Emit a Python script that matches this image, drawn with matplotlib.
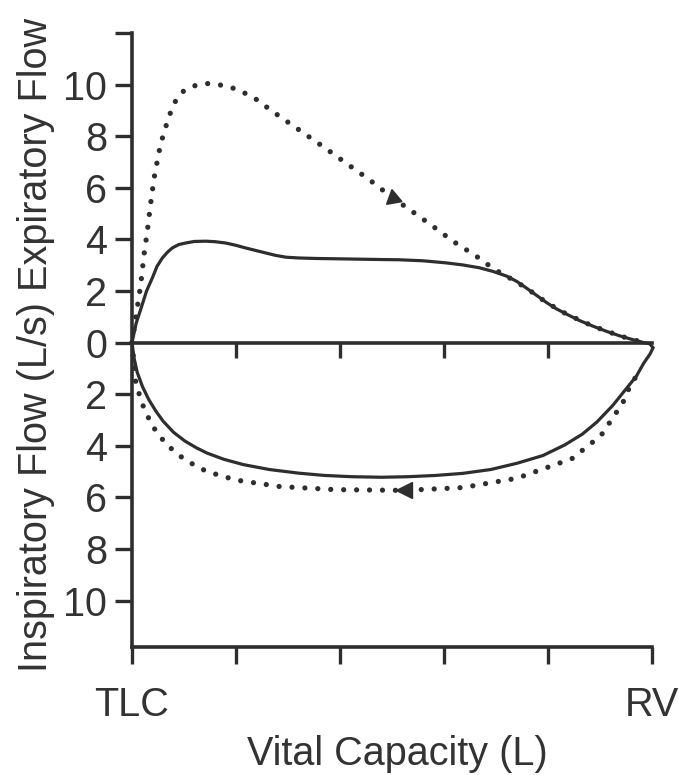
"""
Flow-volume loop: normal (dotted) vs. obstructed (solid)
"""

import matplotlib
matplotlib.use("Agg")
import matplotlib.pyplot as plt

plt.rcParams["font.family"] = ["Liberation Sans", "DejaVu Sans"]

# ================================================================
# 1. Data
# ================================================================
# solid loop, expiratory half (TLC -> RV)
exp_solid_x = [0.0, 0.04, 0.099, 0.14, 0.196, 0.24, 0.292, 0.34, 0.388, 0.45, 0.517,
               0.60, 0.71, 0.80, 0.90, 1.00, 1.09, 1.19, 1.29, 1.38, 1.48, 1.60,
               1.77, 2.09, 2.38, 2.57, 2.80, 3.02, 3.18, 3.34, 3.47, 3.60, 3.70,
               3.79, 3.89, 3.99, 4.08, 4.18, 4.30, 4.43, 4.56, 4.69, 4.81, 4.92,
               4.98, 5.01]
exp_solid_y = [0.0, 0.75, 1.48, 2.0, 2.51, 2.95, 3.28, 3.5, 3.67, 3.8, 3.86,
               3.92, 3.93, 3.91, 3.86, 3.77, 3.67, 3.57, 3.47, 3.38, 3.31, 3.28,
               3.26, 3.24, 3.22, 3.21, 3.17, 3.09, 3.01, 2.90, 2.76, 2.58, 2.37,
               2.12, 1.83, 1.54, 1.31, 1.10, 0.86, 0.64, 0.44, 0.26, 0.12, 0.0,
               -0.05, -0.2]

# solid loop, inspiratory half (drawn TLC -> RV)
insp_solid_x = [0.0, 0.02, 0.05, 0.10, 0.16, 0.23, 0.30, 0.40, 0.51, 0.62, 0.72,
                0.88, 1.07, 1.32, 1.60, 1.85, 2.12, 2.40, 2.65, 2.92, 3.18, 3.45,
                3.70, 3.95, 4.16, 4.33, 4.47, 4.62, 4.75, 4.85, 4.92, 4.98, 5.01]
insp_solid_y = [0.0, -0.6, -1.15, -1.7, -2.2, -2.66, -3.05, -3.48, -3.82, -4.08, -4.28,
                -4.52, -4.73, -4.92, -5.06, -5.15, -5.2, -5.22, -5.2, -5.15, -5.07, -4.92,
                -4.68, -4.38, -3.97, -3.55, -3.08, -2.45, -1.8, -1.3, -0.8, -0.45, -0.2]

# dotted loop, expiratory half
exp_dot_x = [0.0, 0.084, 0.116, 0.147, 0.18, 0.212, 0.26, 0.292, 0.325, 0.373,
             0.414, 0.485, 0.597, 0.725, 0.855, 0.983, 1.095, 1.207, 1.32, 1.433,
             1.64, 1.85, 2.06, 2.27, 2.51, 2.685, 2.893, 3.086, 3.31, 3.487,
             3.60, 3.79, 3.99, 4.18, 4.43, 4.69, 4.92]
exp_dot_y = [0.0, 2.25, 3.42, 4.31, 5.41, 6.37, 7.40, 7.92, 8.37, 8.95,
             9.33, 9.72, 9.95, 10.04, 9.98, 9.85, 9.65, 9.40, 9.05, 8.73,
             8.15, 7.56, 6.95, 6.35, 5.60, 5.11, 4.51, 3.93, 3.35, 2.83,
             2.58, 2.12, 1.54, 1.10, 0.64, 0.26, 0.0]

# dotted loop, inspiratory half
insp_dot_x = [0.0, 0.035, 0.09, 0.19, 0.33, 0.51, 0.72, 1.0, 1.42, 1.95,
              2.62, 3.18, 3.70, 4.23, 4.51, 4.72, 4.79, 4.85]
insp_dot_y = [0.0, -1.5, -2.3, -3.2, -3.95, -4.55, -5.0, -5.33, -5.58, -5.70,
              -5.73, -5.62, -5.26, -4.5, -3.6, -2.33, -1.67, -1.3]

# flow-direction arrowheads on the dotted loop
arrow_exp = (2.51, 5.60)
arrow_insp = (2.62, -5.73)

x_ticks = [0, 1, 2, 3, 4, 5]
x_ticklabels = ["TLC", "", "", "", "", "RV"]
y_ticks = [-10, -8, -6, -4, -2, 0, 2, 4, 6, 8, 10, 12]
y_ticklabels = ["10", "8", "6", "4", "2", "0", "2", "4", "6", "8", "10", ""]

# ================================================================
# 2. Plot
# ================================================================
ink = "#2e2e2e"
txt = "#333333"
fs = 28.5

fig = plt.figure(figsize=(6.79, 7.75), dpi=100, facecolor="white")
ax = fig.add_axes([132 / 679, 128 / 775, 520 / 679, 614 / 775])

ax.plot(exp_solid_x, exp_solid_y, color=ink, lw=2.3, clip_on=False,
        solid_capstyle="round", solid_joinstyle="round")
ax.plot(insp_solid_x, insp_solid_y, color=ink, lw=2.3, clip_on=False,
        solid_capstyle="round", solid_joinstyle="round")

dots = (0, (0.001, 2.45))
ax.plot(exp_dot_x, exp_dot_y, color=ink, lw=3.8, linestyle=dots,
        dash_capstyle="round", clip_on=False)
ax.plot(insp_dot_x, insp_dot_y, color=ink, lw=3.8, linestyle=dots,
        dash_capstyle="round", clip_on=False)

ax.plot(*arrow_exp, marker=(3, 0, 10), markersize=13, color=ink, clip_on=False)
ax.plot(*arrow_insp, marker="<", markersize=12, color=ink, clip_on=False)

ax.set_xlim(0, 5)
ax.set_ylim(-11.8, 12)

for side in ["top", "right"]:
    ax.spines[side].set_visible(False)
for side in ["left", "bottom"]:
    ax.spines[side].set_linewidth(2.6)
    ax.spines[side].set_color(ink)

ax.set_xticks(x_ticks, x_ticklabels)
ax.set_yticks(y_ticks, y_ticklabels)
ax.tick_params(axis="x", length=12, width=2.4, color=ink, pad=16,
               labelsize=fs, labelcolor=txt)
ax.tick_params(axis="y", length=12, width=2.4, color=ink, pad=6,
               labelsize=fs, labelcolor=txt)

# zero line with its own downward ticks
zero = ax.secondary_xaxis(0, transform=ax.transData)
zero.set_xticks(x_ticks[1:-1], [""] * 4)
zero.tick_params(axis="x", length=11, width=2.4, color=ink, direction="out")
zero.spines["bottom"].set_linewidth(2.6)
zero.spines["bottom"].set_color(ink)

fig.text(36.5 / 679, 1 - 345 / 775, "Inspiratory Flow (L/s) Expiratory Flow",
         rotation=90, ha="center", va="center", fontsize=fs, color=txt)
fig.text(397 / 679, 10 / 775, "Vital Capacity (L)", ha="center", va="baseline",
         fontsize=fs, color=txt)

fig.savefig("out.png", dpi=100, facecolor="white")
plt.close(fig)
